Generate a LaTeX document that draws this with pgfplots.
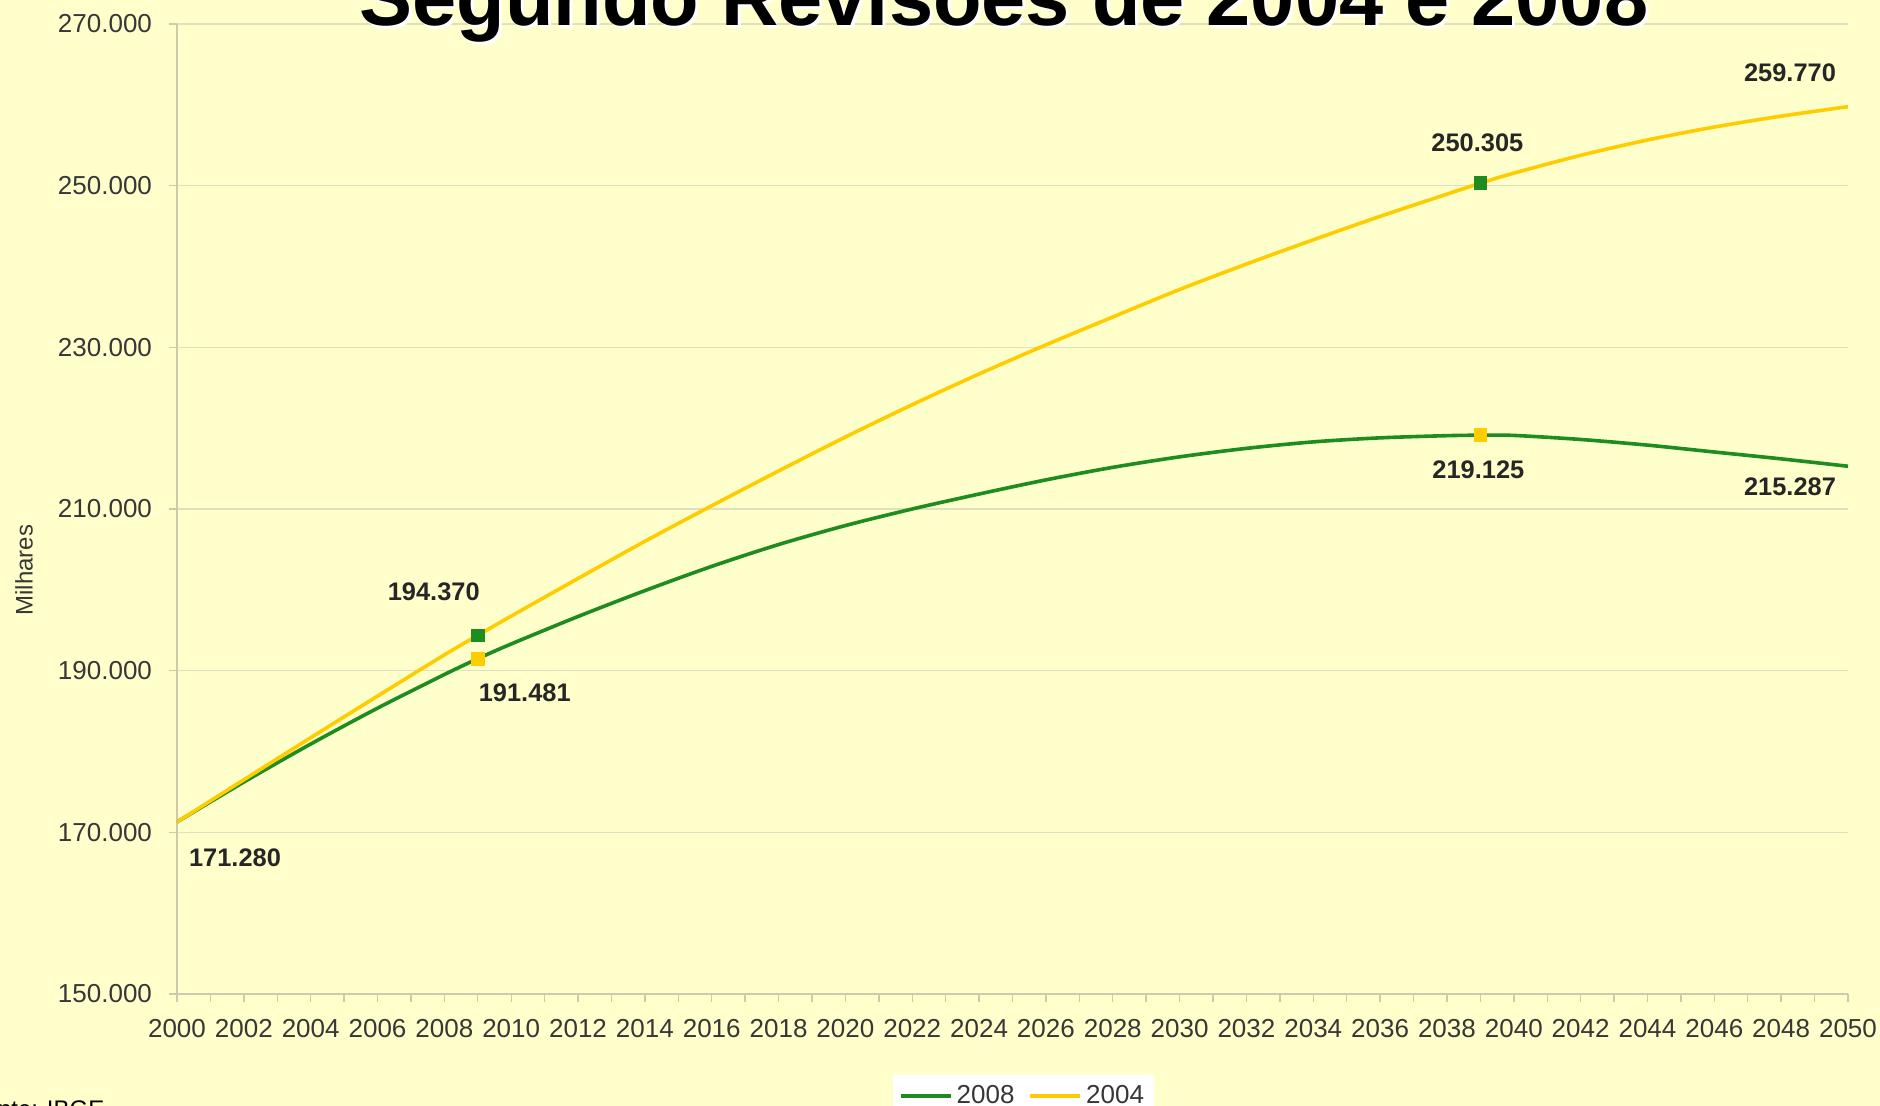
\documentclass[border=0pt]{standalone}
\usepackage{pgfplots}
\pgfplotsset{compat=1.18}
\usepackage{fontspec}
\setmainfont{Liberation Sans}
\definecolor{BgYellow}{RGB}{255,255,204}
\definecolor{Green08}{RGB}{30,140,30}
\definecolor{Yellow04}{RGB}{255,204,0}
\definecolor{GridBeige}{RGB}{226,223,192}
\definecolor{AxisGray}{RGB}{205,202,172}
\definecolor{TickText}{RGB}{55,55,55}

\begin{document}
\begin{tikzpicture}[x=1pt,y=1pt]
\path[use as bounding box] (0,0) rectangle (940,553);
\clip (0,0) rectangle (940,553);
\fill[BgYellow] (0,0) rectangle (940,553);

\begin{axis}[
    at={(88.5pt,56pt)}, anchor=south west,
    scale only axis, width=835.5pt, height=485pt,
    xmin=2000, xmax=2050, ymin=150, ymax=270,
    axis lines=left,
    axis line style={draw=AxisGray, line width=0.8pt, -},
    xtick={2000,2002,...,2050},
    minor xtick={2001,2003,...,2049},
    ytick={150,170,...,270},
    tick align=outside,
    major tick length=4pt, minor tick length=4pt,
    tick style={draw=AxisGray, line width=0.7pt},
    ymajorgrids,
    grid style={draw=GridBeige, line width=0.8pt},
    tick label style={font=\fontsize{13}{13}\selectfont, color=TickText},
    /pgf/number format/assume math mode=true,
    xticklabel style={/pgf/number format/1000 sep={}, yshift=-5pt},
    yticklabel style={/pgf/number format/.cd, fixed, fixed zerofill, precision=3, use period, /tikz/.cd, xshift=-5pt},
    ylabel={Milhares},
    ylabel style={font=\fontsize{12}{12}\selectfont, color=TickText,
        at={(axis description cs:-0.0916,0.437)}, anchor=center},
    legend style={at={(0.5066,-0.0835)}, anchor=north, draw=none, fill=white,
        font=\fontsize{13}{13}\selectfont, text=TickText, inner sep=3pt,
        /tikz/every even column/.append style={column sep=5pt}},
    legend columns=2,
    legend image code/.code={\draw[#1, line width=1.8pt] (0pt,0pt) -- (25pt,0pt);},
]

\addplot[Green08, line width=1.8pt, smooth, tension=0.5] coordinates {
    (2000,171.28) (2002,176.22) (2004,180.92) (2006,185.36) (2008,189.52)
    (2009,191.481) (2010,193.3) (2012,196.7) (2014,199.9) (2016,202.9)
    (2018,205.6) (2020,207.95) (2022,210.0) (2024,211.85) (2026,213.6)
    (2028,215.15) (2030,216.45) (2032,217.5) (2034,218.3) (2036,218.8)
    (2038,219.07) (2039,219.125) (2040,219.1) (2042,218.6) (2044,217.9)
    (2046,217.05) (2048,216.2) (2050,215.287)
};
\addlegendentry{2008}

\addplot[Yellow04, line width=1.8pt, smooth, tension=0.5] coordinates {
    (2000,171.28) (2002,176.5) (2004,181.7) (2006,186.85) (2008,191.95)
    (2009,194.37) (2010,196.75) (2012,201.4) (2014,206.0) (2016,210.4)
    (2018,214.7) (2020,218.9) (2022,222.9) (2024,226.7) (2026,230.3)
    (2028,233.75) (2030,237.15) (2032,240.3) (2034,243.3) (2036,246.2)
    (2038,248.95) (2039,250.305) (2040,251.55) (2042,253.75) (2044,255.65)
    (2046,257.25) (2048,258.6) (2050,259.77)
};
\addlegendentry{2004}

% markers (colours swapped, as in the original)
\addplot[only marks, mark=square*, mark size=3.2pt, Green08, forget plot]
    coordinates {(2009,194.370) (2039,250.305)};
\addplot[only marks, mark=square*, mark size=3.2pt, Yellow04, forget plot]
    coordinates {(2009,191.481) (2039,219.125)};

\tikzset{lbl/.style={font=\bfseries\fontsize{12.7}{13}\selectfont, text=black!85}}
\node[lbl, xshift=29pt, yshift=-18pt] at (axis cs:2000,171.28) {171.280};
\node[lbl, xshift=-22pt, yshift=22pt] at (axis cs:2009,194.370) {194.370};
\node[lbl, xshift=23.5pt, yshift=-17pt] at (axis cs:2009,191.481) {191.481};
\node[lbl, xshift=-1.5pt, yshift=20pt] at (axis cs:2039,250.305) {250.305};
\node[lbl, xshift=-1pt, yshift=-17.5pt] at (axis cs:2039,219.125) {219.125};
\node[lbl, xshift=-29pt, yshift=17pt] at (axis cs:2050,259.770) {259.770};
\node[lbl, xshift=-29pt, yshift=-10.5pt] at (axis cs:2050,215.287) {215.287};
\end{axis}

% title, cut off at the top as in the reference
\node[font=\bfseries\fontsize{39.7}{40}\selectfont, text=white, anchor=base] at (503.5,538.5) {Segundo Revisões de 2004 e 2008};
\node[font=\bfseries\fontsize{39.7}{40}\selectfont, text=black, anchor=base] at (502,540) {Segundo Revisões de 2004 e 2008};

\node[anchor=base west, font=\fontsize{12}{12}\selectfont] at (-18.5,-5.6) {Fonte: IBGE};
\end{tikzpicture}
\end{document}
